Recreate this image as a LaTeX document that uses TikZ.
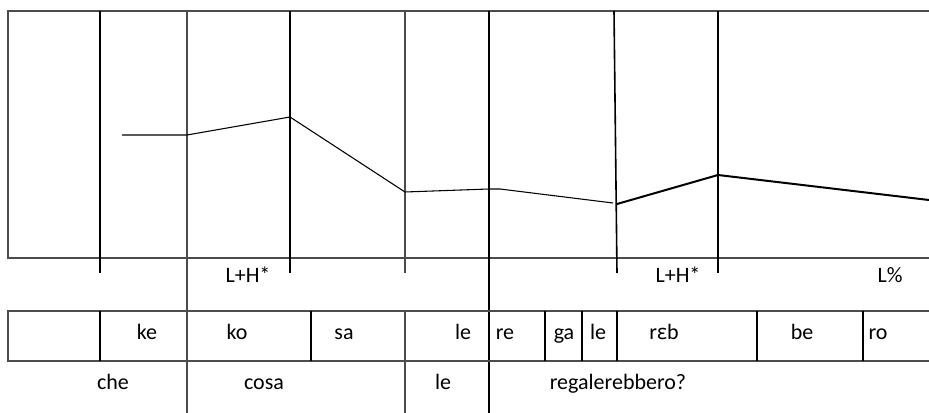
\documentclass[tikz,border=0pt]{standalone}
\usepackage{fontspec}
\setmainfont{Carlito}
\newfontfamily\ipafont{Noto Sans}
\begin{document}
\begin{tikzpicture}[x=0.75pt,y=-0.75pt,
  grid/.style={draw=black!70,line width=1.1pt},
  bar/.style={draw=black,line width=1.2pt},
  lbl/.style={anchor=base,inner sep=0pt,font=\fontsize{16.5}{20}\selectfont},
  pitch/.style={draw=black,line width=0.8pt},
  pitchb/.style={draw=black,line width=1.5pt}]
\useasboundingbox (0,0) rectangle (929,413);
% top box
\draw[grid] (929,11) -- (8,11) -- (8,258) -- (929,258);
% vertical bars
\draw[bar] (100,11) -- (100,273);
\draw[grid] (187,11) -- (187,413);
\draw[bar] (290,11) -- (290,273);
\draw[grid] (405,11) -- (405,273);
\draw[bar] (489,11) -- (489,413);
\draw[bar] (614,11) -- (617,273);
\draw[bar] (718,11) -- (718,273);
% pitch contour
\draw[pitch] (122,135) -- (187,135) -- (290,117) -- (405,192) -- (489,189) -- (500,189) -- (613,203);
\draw[pitchb] (617,204) -- (718,175) -- (929,200);
% tone labels
\node[lbl] (t1) at (248,283) {L+H*};
\node[lbl] (t2) at (678,283) {L+H*};
\node[lbl] (t3) at (890,283) {L\%};
% syllable row
\draw[grid] (929,311) -- (8,311) -- (8,361) -- (929,361);
\foreach \xx in {100,311,545,582,617,757,863}
  \draw[bar] (\xx,311) -- (\xx,361);
\draw[grid] (405,311) -- (405,413);
\node[lbl] (s1) at (147,340) {ke};
\node[lbl] (s2) at (237,340) {ko};
\node[lbl] (s3) at (344,340) {sa};
\node[lbl] (s4) at (463,340) {le};
\node[lbl] (s5) at (505,340) {re};
\node[lbl] (s6) at (564,340) {ga};
\node[lbl] (s7) at (598,340) {le};
\node[lbl] (s8) at (664,340) {r{\ipafont\fontsize{15.5}{20}\selectfont ɛ}b};
\node[lbl] (s9) at (802,340) {be};
\node[lbl] (s10) at (878,340) {ro};
% word row
\node[lbl] (w1) at (113,390) {che};
\node[lbl] (w2) at (264,390) {cosa};
\node[lbl] (w3) at (443,390) {le};
\node[lbl] (w4) at (618,390) {regalerebbero?};
\end{tikzpicture}
\end{document}
